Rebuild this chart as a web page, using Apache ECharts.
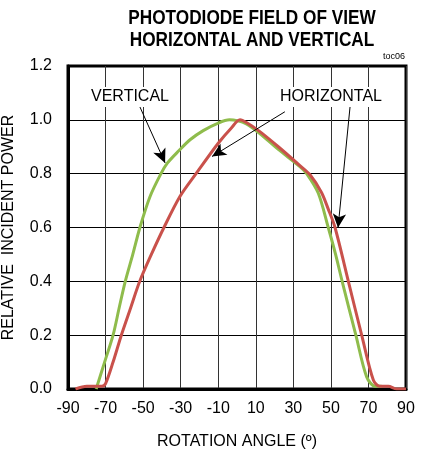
<!DOCTYPE html>
<html><head><meta charset="utf-8">
<script src="https://cdn.jsdelivr.net/npm/echarts@6/dist/echarts.min.js"></script>
<style>html,body{margin:0;padding:0;background:#fff}#c{width:423px;height:453px}</style>
</head><body><div id="c"></div>
<script>
const xTicks = [-90,-70,-50,-30,-10,10,30,50,70,90];
const yTicks = [0,0.2,0.4,0.6,0.8,1.0,1.2];
const verticalAngle = [-75,-70.5,-66,-62.8,-59.5,-55.5,-51.7,-46.3,-40.5,-37,-31,-25,-18,-10,-4,0,5,12,22,33.5,37.1,43.3,48.6,52.5,56,63.3,69,73.5,77];
const verticalPower = [0,0.1,0.2,0.3,0.4,0.5,0.6,0.715,0.8,0.84,0.885,0.926,0.96,0.988,1.0,0.997,0.985,0.95,0.89,0.826,0.8,0.727,0.6,0.5,0.4,0.2,0.046,0.01,0.01];
const horizontalAngle = [-86,-80,-72,-70,-66,-61.6,-56.7,-51.8,-45.6,-38.9,-30.4,-21.8,-10,-3,1.6,5,12,22,33.5,39,45,48.5,52.2,59.3,66.4,72.6,76,80.6,85,90];
const horizontalPower = [0,0.01,0.01,0.02,0.1,0.2,0.3,0.4,0.5,0.6,0.715,0.8,0.913,0.97,1.0,0.99,0.957,0.9,0.83,0.795,0.73,0.67,0.6,0.4,0.2,0.033,0.01,0.01,0,0];
const titleLines = ['PHOTODIODE FIELD OF VIEW','HORIZONTAL AND VERTICAL'];

const zip = (a,b)=>a.map((v,i)=>[v,b[i]]);
const chart = echarts.init(document.getElementById('c'));
const FONT = 'Liberation Sans, Arial, sans-serif';
chart.setOption({
  animation:false,
  backgroundColor:'#fff',
  grid:{left:68, top:66, right:17, bottom:64, show:true, borderColor:'#000', borderWidth:3, backgroundColor:'transparent', outerBoundsMode:'none', containLabel:false},
  xAxis:{
    type:'value', min:xTicks[0], max:xTicks[xTicks.length-1], interval:20,
    name:'ROTATION ANGLE (º)', nameLocation:'middle', nameGap:45,
    nameTextStyle:{fontFamily:FONT, fontSize:16, color:'#000'},
    axisLine:{onZero:false, lineStyle:{color:'#000', width:3}},
    axisTick:{show:false},
    axisLabel:{fontFamily:FONT, fontSize:16, color:'#000', margin:12},
    splitLine:{lineStyle:{color:'#333', width:1}}
  },
  yAxis:{
    type:'value', min:yTicks[0], max:yTicks[yTicks.length-1], interval:0.2,
    name:'RELATIVE  INCIDENT POWER', nameLocation:'middle', nameGap:51,
    nameTextStyle:{fontFamily:FONT, fontSize:16, color:'#000'},
    axisLine:{onZero:false, lineStyle:{color:'#000', width:3}},
    axisTick:{show:false},
    axisLabel:{fontFamily:FONT, fontSize:16, color:'#000', margin:16, formatter:v=>v.toFixed(1)},
    splitLine:{lineStyle:{color:'#000', width:1}}
  },
  series:[
    {type:'line', name:'VERTICAL', data:zip(verticalAngle, verticalPower), smooth:0.3, showSymbol:false,
     lineStyle:{color:'#8fbc4c', width:3}, z:3},
    {type:'line', name:'HORIZONTAL', data:zip(horizontalAngle, horizontalPower), smooth:0.3, showSymbol:false,
     lineStyle:{color:'#c9514b', width:3}, z:4,
     markLine:{silent:true, symbol:['none','arrow'], symbolSize:[10,14], label:{show:false},
       lineStyle:{color:'#000', width:1, type:'solid'},
       data:[
         [{coord:[-51.7,1.048]},{coord:[-38.3,0.84]}],
         [{coord:[25.5,1.03]},{coord:[-13.3,0.864]}],
         [{coord:[60.2,1.048]},{coord:[53.8,0.599]}]
       ]}}
  ],
  graphic:[
    {type:'text', x:252, y:18, scaleX:0.82, style:{text:titleLines[0], fontFamily:FONT, fontWeight:'bold', fontSize:21, fill:'#000', align:'center', verticalAlign:'middle'}, z:100},
    {type:'text', x:252, y:40, scaleX:0.82, style:{text:titleLines[1], fontFamily:FONT, fontWeight:'bold', fontSize:21, fill:'#000', align:'center', verticalAlign:'middle'}, z:100},
    {type:'text', x:130, y:97, style:{text:'VERTICAL', fontFamily:FONT, fontSize:16, fill:'#000', align:'center', verticalAlign:'middle', backgroundColor:'#fff', padding:[2,3]}, z:100},
    {type:'text', x:331, y:97, style:{text:'HORIZONTAL', fontFamily:FONT, fontSize:16, fill:'#000', align:'center', verticalAlign:'middle', backgroundColor:'#fff', padding:[2,3]}, z:100},
    {type:'text', x:405, y:57, style:{text:'toc06', fontFamily:FONT, fontSize:9, fill:'#000', align:'right', verticalAlign:'middle'}, z:100}
  ]
});
</script></body></html>
